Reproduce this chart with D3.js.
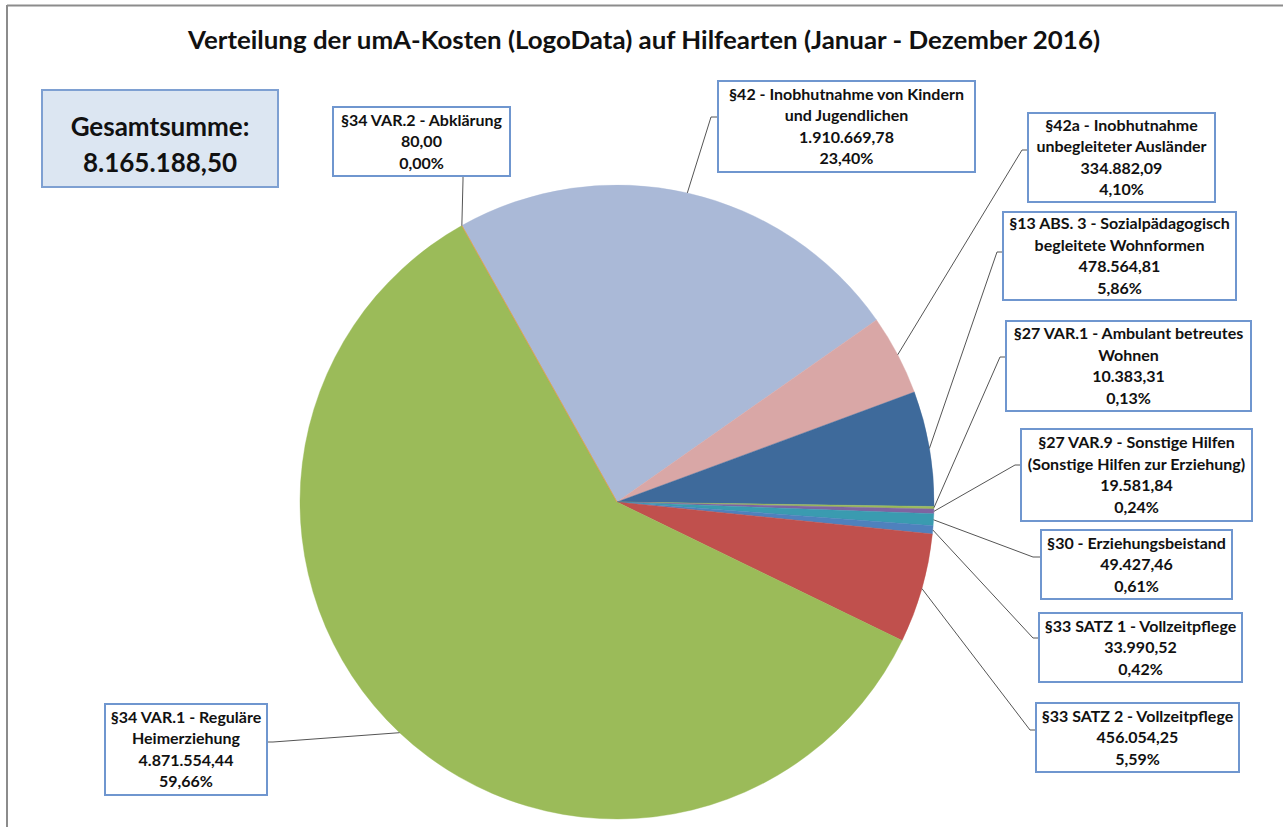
<!DOCTYPE html>
<html>
<head>
<meta charset="utf-8">
<script src="https://cdn.jsdelivr.net/npm/d3@7"></script>
<style>
  body { margin: 0; background: #fff; }
  text { font-family: Lato, "Liberation Sans", sans-serif; font-weight: 700; fill: #111; }
</style>
</head>
<body>
<script>

// Data (clockwise, starting at the §42 slice)
const categories = [
  "§42 - Inobhutnahme von Kindern\nund Jugendlichen",
  "§42a - Inobhutnahme\nunbegleiteter Ausländer",
  "§13 ABS. 3 - Sozialpädagogisch\nbegleitete Wohnformen",
  "§27 VAR.1 - Ambulant betreutes\nWohnen",
  "§27 VAR.9 - Sonstige Hilfen\n(Sonstige Hilfen zur Erziehung)",
  "§30 - Erziehungsbeistand",
  "§33 SATZ 1 - Vollzeitpflege",
  "§33 SATZ 2 - Vollzeitpflege",
  "§34 VAR.1 - Reguläre\nHeimerziehung",
  "§34 VAR.2 - Abklärung"
];
const values = [1910669.78, 334882.09, 478564.81, 10383.31, 19581.84, 49427.46, 33990.52, 456054.25, 4871554.44, 80.00];
const sliceColors = ["#aab9d7", "#d9a7a6", "#3e6a9b", "#9bbb59", "#7f64a1", "#3a9bb0", "#4f81bd", "#c0504d", "#9bbb59", "#f79646"];
const titleText = "Verteilung der umA-Kosten (LogoData) auf Hilfearten (Januar - Dezember 2016)";
const totalLabel = "Gesamtsumme:";

// label boxes: x, y, w, h, anchor (where leader meets box), elbow
const labelBoxes = [
  {x: 718,  y: 81,  w: 257, h: 91, ax: 718,  ay: 117, ex: 711,  ey: 117},
  {x: 1028, y: 113, w: 187, h: 89, ax: 1028, ay: 150, ex: 1022, ey: 150},
  {x: 1003, y: 212, w: 233, h: 88, ax: 1003, ay: 252, ex: 997,  ey: 252},
  {x: 1006, y: 321, w: 245, h: 90, ax: 1006, ay: 357, ex: 1000, ey: 357},
  {x: 1021, y: 429, w: 231, h: 92, ax: 1021, ay: 465, ex: 1015, ey: 465},
  {x: 1041, y: 530, w: 191, h: 69, ax: 1041, ay: 557, ex: 1033, ey: 557},
  {x: 1039, y: 613, w: 203, h: 69, ax: 1039, ay: 638, ex: 1033, ey: 638},
  {x: 1036, y: 703, w: 203, h: 69, ax: 1036, ay: 730, ex: 1030, ey: 730},
  {x: 105,  y: 704, w: 162, h: 91, ax: 267,  ay: 742, ex: 273,  ey: 742},
  {x: 333,  y: 107, w: 177, h: 69, ax: 463,  ay: 176, ex: 463,  ey: 180}
];

const W = 1283, H = 827;
const cx = 617, cy = 502, r = 317;
const lineH = 21.5;

const de = d3.formatLocale({decimal: ",", thousands: ".", grouping: [3], currency: ["", " €"]});
const fmtVal = de.format(",.2f");
const fmtPct = de.format(".2%");
const total = d3.sum(values);

const svg = d3.select("body").append("svg")
    .attr("width", W)
    .attr("height", H);

// frame
svg.append("line").attr("x1", 7).attr("x2", W).attr("y1", 5.5).attr("y2", 5.5)
    .attr("stroke", "#8c8c8c").attr("stroke-width", 2);
svg.append("line").attr("x1", 7).attr("x2", 7).attr("y1", 5).attr("y2", H)
    .attr("stroke", "#8c8c8c").attr("stroke-width", 2);

// title
svg.append("text")
    .attr("x", 644)
    .attr("y", 49)
    .attr("text-anchor", "middle")
    .attr("textLength", 912)
    .attr("lengthAdjust", "spacingAndGlyphs")
    .style("font-size", "25px")
    .text(titleText);

// total box
const tot = svg.append("g");
tot.append("rect")
    .attr("x", 42).attr("y", 90).attr("width", 236).attr("height", 97)
    .attr("fill", "#dce6f2").attr("stroke", "#7ea0d2").attr("stroke-width", 2);
tot.append("text").attr("x", 160).attr("y", 136).attr("text-anchor", "middle")
    .style("font-size", "26px").text(totalLabel);
tot.append("text").attr("x", 160).attr("y", 172).attr("text-anchor", "middle")
    .style("font-size", "26px").text(fmtVal(total));

// pie
const startA = -29.3 * Math.PI / 180;
const pie = d3.pie().sort(null).startAngle(startA).endAngle(startA + 2 * Math.PI);
const arcs = pie(values);
const arc = d3.arc().innerRadius(0).outerRadius(r);
const edge = d3.arc().innerRadius(r).outerRadius(r);

const g = svg.append("g").attr("transform", `translate(${cx},${cy})`);
g.selectAll("path.slice")
    .data(arcs)
    .enter()
    .append("path")
    .attr("class", "slice")
    .attr("d", arc)
    .attr("fill", (d, i) => sliceColors[i])
    .attr("stroke", (d, i) => sliceColors[i])
    .attr("stroke-width", 0.4);

// leader lines
svg.append("g")
    .selectAll("polyline")
    .data(arcs)
    .enter()
    .append("polyline")
    .attr("points", (d, i) => {
        const p = edge.centroid(d);
        const b = labelBoxes[i];
        return [[cx + p[0], cy + p[1]], [b.ex, b.ey], [b.ax, b.ay]].join(" ");
    })
    .attr("fill", "none")
    .attr("stroke", "#555")
    .attr("stroke-width", 1);

// labels
const lab = svg.append("g")
    .selectAll("g")
    .data(arcs)
    .enter()
    .append("g");

lab.append("rect")
    .attr("x", (d, i) => labelBoxes[i].x)
    .attr("y", (d, i) => labelBoxes[i].y)
    .attr("width", (d, i) => labelBoxes[i].w)
    .attr("height", (d, i) => labelBoxes[i].h)
    .attr("fill", "#fff")
    .attr("stroke", "#6f96cf")
    .attr("stroke-width", 2);

lab.each(function(d, i) {
    const b = labelBoxes[i];
    const lines = categories[i].split("\n").concat([fmtVal(values[i]), fmtPct(values[i] / total)]);
    const y0 = b.y + b.h / 2 - (lines.length - 1) * lineH / 2 + 5.5;
    d3.select(this).selectAll("text")
        .data(lines)
        .enter()
        .append("text")
        .attr("x", b.x + b.w / 2)
        .attr("y", (t, j) => y0 + j * lineH)
        .attr("text-anchor", "middle")
        .style("font-size", "16px")
        .text(t => t);
});

</script>
</body>
</html>
